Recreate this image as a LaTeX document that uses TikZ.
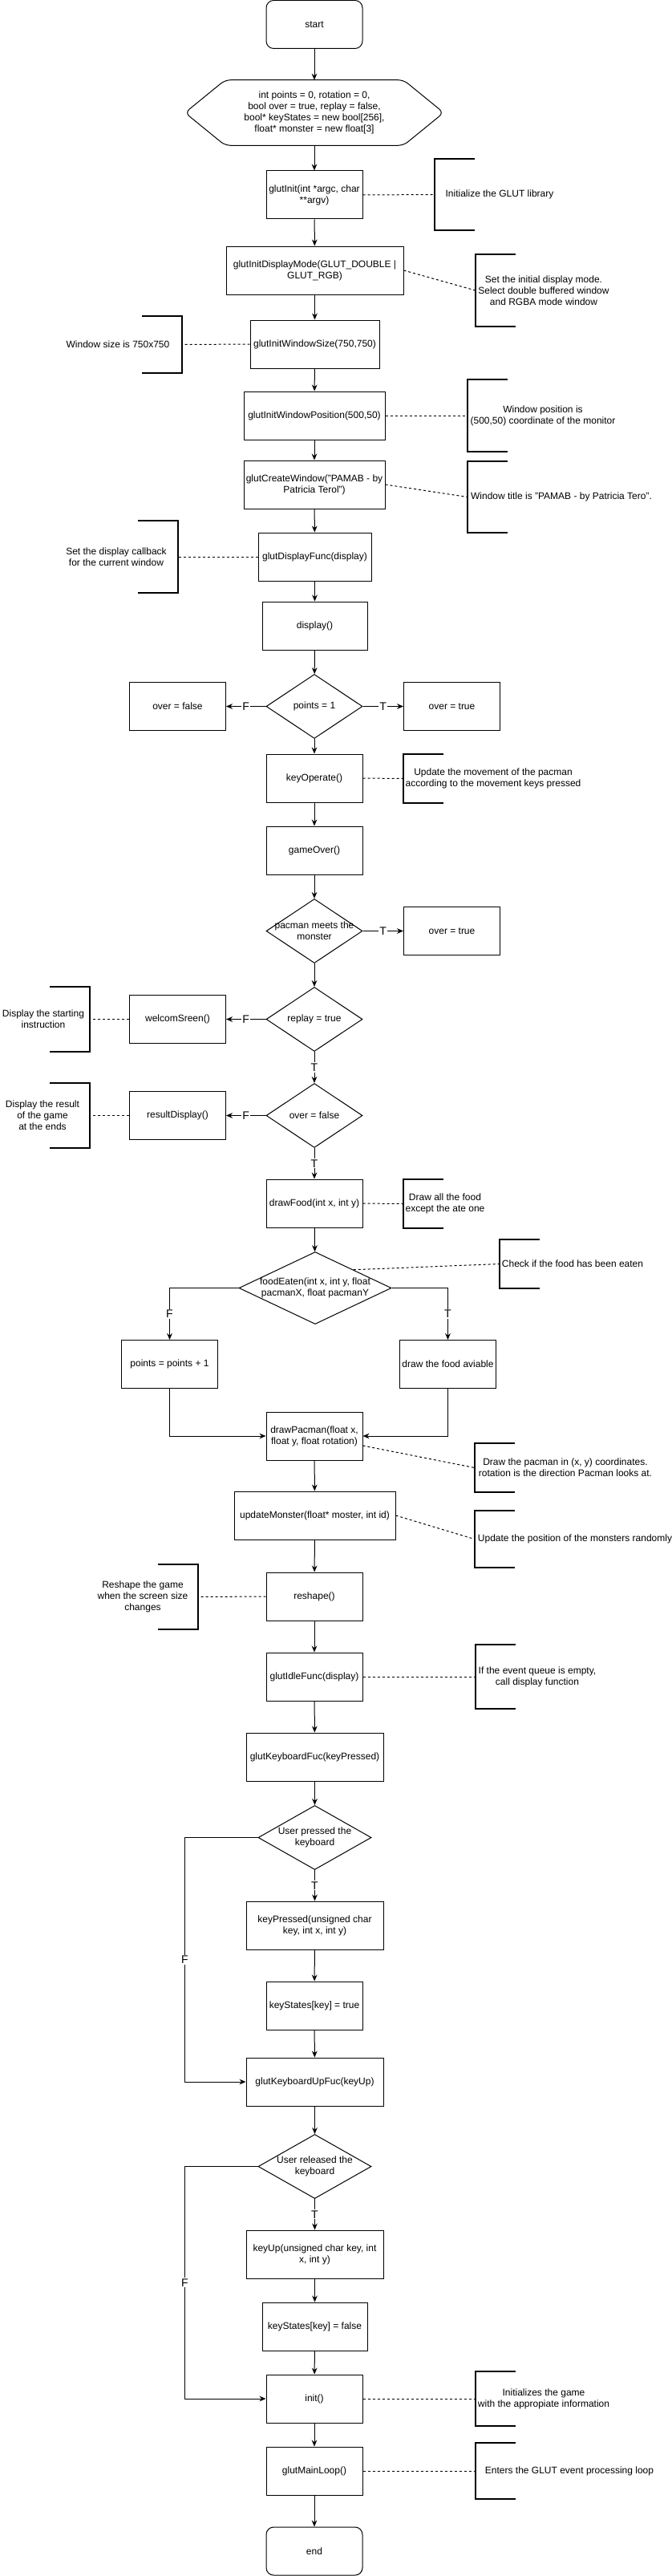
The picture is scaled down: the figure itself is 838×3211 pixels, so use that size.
\documentclass[tikz,border=0pt]{standalone}
\usepackage{fontspec}
\setmainfont{Liberation Sans}
\usetikzlibrary{shapes.geometric,arrows.meta,calc}

\tikzset{
  box/.style={draw, line width=0.75pt, minimum width=90pt, minimum height=45pt, align=center, inner sep=1pt},
  term/.style={box, rounded corners=7pt},
  decision/.style={draw, diamond, line width=0.75pt, inner sep=0pt, minimum width=90pt, minimum height=60pt},
  dlab/.style={align=center},
  annot/.style={align=center, inner sep=0pt},
  annotbar/.style={line width=1.5pt},
  flow/.style={line width=0.75pt, -{Stealth[length=6pt,width=5pt]}},
  dotline/.style={line width=0.75pt, dash pattern=on 2.25pt off 2.25pt},
  lbl/.style={fill=white, inner sep=1pt, font=\fontsize{10.5}{12}\selectfont},
}

\begin{document}
\begin{tikzpicture}[x=0.75pt, y=-0.75pt, font=\fontsize{9}{10.5}\selectfont]

        % Pagina
        \path[use as bounding box, fill=white] (0,0) rectangle (838,3211);

        % Inizializzazione
        \node[term] (start) at (392,30.5) {start};
        \node[align=center, minimum width=241.5pt, minimum height=60.75pt] (vars) at (392,140.5)
          {int points = 0, rotation = 0,\\bool over = true, replay = false,\\bool* keyStates = new bool[256],\\float* monster = new float[3]};
        \draw[line width=0.75pt, rounded corners=5pt] (vars.west) -- ($(vars.north west)+(50,0)$) -- ($(vars.north east)+(-50,0)$)
          -- (vars.east) -- ($(vars.south east)+(-50,0)$) -- ($(vars.south west)+(50,0)$) -- cycle;
        \node[box] (glutinit) at (392,243) {glutInit(int *argc, char\\{}**argv)};
        \node[box, minimum width=165.75pt] (dispmode) at (392.5,337) {glutInitDisplayMode(GLUT\_DOUBLE |\\GLUT\_RGB)};
        \node[box, minimum width=120.75pt] (winsize) at (392.5,429) {glutInitWindowSize(750,750)};
        \node[box, minimum width=132pt] (winpos) at (392,518) {glutInitWindowPosition(500,50)};
        \node[box, minimum width=132pt] (createwin) at (392,604) {glutCreateWindow("PAMAB - by\\Patricia Terol")};
        \node[box, minimum width=105.75pt] (dispfunc) at (392.5,694) {glutDisplayFunc(display)};
        \node[box, minimum width=98.25pt] (display) at (392.5,780) {display()};

        % Gioco
        \node[decision, label={[dlab]center:{points = 1}}] (d1) at (392,880.5) {};
        \node[box] (overf) at (221.5,880.5) {over = false};
        \node[box] (overt1) at (563.5,880.5) {over = true};
        \node[box] (keyop) at (392,970) {keyOperate()};
        \node[box] (gameover) at (392,1060) {gameOver()};
        \node[decision, label={[dlab]center:{pacman meets the\\monster}}] (d2) at (392,1160.5) {};
        \node[box] (overt2) at (563.5,1160.5) {over = true};
        \node[decision, label={[dlab]center:{replay = true}}] (d3) at (392,1270.5) {};
        \node[box] (welcome) at (221.5,1270.5) {welcomSreen()};
        \node[decision, label={[dlab]center:{over = false}}] (d4) at (392,1390.5) {};
        \node[box] (result) at (221.5,1390.5) {resultDisplay()};
        \node[box] (drawfood) at (392,1500) {drawFood(int x, int y)};
        \node[decision, minimum width=142.5pt, minimum height=67.5pt,
          label={[dlab]center:{foodEaten(int x, int y, float\\pacmanX, float pacmanY}}] (d5) at (393,1605.5) {};
        \node[box] (points) at (211.5,1700.5) {points = points + 1};
        \node[box] (avail) at (558.5,1700.5) {draw the food aviable};
        \node[box] (pacman) at (392,1790) {drawPacman(float x,\\float y, float rotation)};
        \node[box, minimum width=150.75pt] (monster) at (392.5,1889) {updateMonster(float* moster, int id)};
        \node[box] (reshape) at (392,1990) {reshape()};
        \node[box] (idle) at (392,2090) {glutIdleFunc(display)};

        % Tastiera
        \node[box, minimum width=128.25pt] (kbfunc) at (392.5,2190) {glutKeyboardFuc(keyPressed)};
        \node[decision, minimum width=105.75pt, label={[dlab]center:{User pressed the\\keyboard}}] (d6) at (392.5,2290.5) {};
        \node[box, minimum width=128.25pt] (keypressed) at (392.5,2400) {keyPressed(unsigned char\\key, int x, int y)};
        \node[box] (kstrue) at (392,2500) {keyStates[key] = true};
        \node[box, minimum width=128.25pt] (upfunc) at (392.5,2595) {glutKeyboardUpFuc(keyUp)};
        \node[decision, minimum width=105.75pt, label={[dlab]center:{User released the\\keyboard}}] (d7) at (392.5,2700.5) {};
        \node[box, minimum width=128.25pt] (keyup) at (392.5,2810) {keyUp(unsigned char key, int\\x, int y)};
        \node[box, minimum width=98.25pt] (ksfalse) at (392.5,2900) {keyStates[key] = false};
        \node[box] (initg) at (392,2990) {init()};
        \node[box] (mainloop) at (392,3080) {glutMainLoop()};
        \node[term] (end) at (392,3180) {end};

        % Frecce
        \foreach \a/\b in {start/vars, vars/glutinit, glutinit/dispmode, dispmode/winsize, winsize/winpos,
            winpos/createwin, createwin/dispfunc, dispfunc/display, display/d1, d1/keyop, keyop/gameover,
            gameover/d2, d2/d3, drawfood/d5, pacman/monster, monster/reshape, reshape/idle, idle/kbfunc,
            kbfunc/d6, keypressed/kstrue, kstrue/upfunc, upfunc/d7, keyup/ksfalse, ksfalse/initg,
            initg/mainloop, mainloop/end}
          \draw[flow] (\a) -- (\b);
        \draw[flow] (d1.west) -- node[lbl]{F} (overf.east);
        \draw[flow] (d1.east) -- node[lbl]{T} (overt1.west);
        \draw[flow] (d2.east) -- node[lbl]{T} (overt2.west);
        \draw[flow] (d3.west) -- node[lbl]{F} (welcome.east);
        \draw[flow] (d3.south) -- node[lbl]{T} (d4.north);
        \draw[flow] (d4.west) -- node[lbl]{F} (result.east);
        \draw[flow] (d4.south) -- node[lbl]{T} (drawfood.north);
        \draw[flow] (d5.west) -| node[lbl, pos=0.75]{F} (points.north);
        \draw[flow] (d5.east) -| node[lbl, pos=0.75]{T} (avail.north);
        \draw[flow] (points.south) |- (pacman.west);
        \draw[flow] (avail.south) |- (pacman.east);
        \draw[flow] (d6.south) -- node[lbl]{T} (keypressed.north);
        \draw[flow] (d6.west) -- ++(-91,0) |- node[lbl, pos=0.25]{F} (upfunc.west);
        \draw[flow] (d7.south) -- node[lbl]{T} (keyup.north);
        \draw[flow] (d7.west) -- ++(-91,0) |- node[lbl, pos=0.25]{F} (initg.west);

        % Annotazioni a destra
        \node[annot, minimum width=121.5pt, minimum height=66.75pt] (nInit) at (623,242.5) {Initialize the GLUT library};
        \node[annot, minimum width=127.5pt, minimum height=67.5pt] (nMode) at (678,362) {Set the initial display mode.\\Select double buffered window\\and RGBA mode window};
        \node[annot, minimum width=141pt, minimum height=67.5pt] (nPos) at (677,518) {Window position is\\(500,50) coordinate of the monitor};
        \node[annot, minimum width=175.5pt, minimum height=66.75pt] (nTitle) at (700,619.5) {Window title is "PAMAB - by Patricia Tero".};
        \node[annot, minimum width=168pt, minimum height=45.75pt] (nKey) at (615,970.5) {Update the movement of the pacman\\according to the movement keys pressed};
        \node[annot, minimum width=78pt, minimum height=45.75pt] (nFood) at (555,1500.5) {Draw all the food\\except the ate one};
        \node[annot, minimum width=136.5pt, minimum height=45.75pt] (nEaten) at (714,1575.5) {Check if the food has been eaten};
        \node[annot, minimum width=169.5pt, minimum height=45.75pt] (nPacman) at (705,1829.5) {Draw the pacman in (x, y) coordinates.\\rotation is the direction Pacman looks at.};
        \node[annot, minimum width=187.5pt, minimum height=53.25pt] (nMonster) at (717,1918.5) {Update the position of the monsters randomly};
        \node[annot, minimum width=115.5pt, minimum height=60pt] (nIdle) at (670,2090) {If the event queue is empty,\\call display function};
        \node[annot, minimum width=127.5pt, minimum height=51pt] (nInitGame) at (678,2990) {Initializes the game\\with the appropiate information};
        \node[annot, minimum width=175.5pt, minimum height=52.5pt] (nLoop) at (710,3080) {Enters the GLUT event processing loop};

        % Annotazioni a sinistra
        \node[annot, minimum width=120pt, minimum height=53.25pt] (nSize) at (147,429.5) {Window size is 750x750};
        \node[annot, minimum width=115.5pt, minimum height=67.5pt] (nDisp) at (145,694) {Set the display callback\\for the current window};
        \node[annot, minimum width=87pt, minimum height=60.75pt] (nWelcome) at (54,1270.5) {Display the starting\\instruction};
        \node[annot, minimum width=88.5pt, minimum height=60.75pt] (nResult) at (53,1390.5) {Display the result\\of the game\\at the ends};
        \node[annot, minimum width=103.5pt, minimum height=60.75pt] (nReshape) at (178,1990.5) {Reshape the game\\when the screen size\\changes};

        % Parentesi
        \foreach \n in {nInit, nMode, nPos, nTitle, nKey, nFood, nEaten, nPacman, nMonster, nIdle, nInitGame, nLoop}
          \draw[annotbar] ($(\n.north west)+(50,0)$) -- (\n.north west) -- (\n.south west) -- ++(50,0);
        \foreach \n in {nSize, nDisp, nWelcome, nResult, nReshape}
          \draw[annotbar] ($(\n.north east)+(-50,0)$) -- (\n.north east) -- (\n.south east) -- ++(-50,0);

        % Linee tratteggiate
        \foreach \a/\b in {glutinit/nInit, dispmode/nMode, winpos/nPos, createwin/nTitle, keyop/nKey,
            drawfood/nFood, monster/nMonster, idle/nIdle, initg/nInitGame, mainloop/nLoop}
          \draw[dotline] (\a.east) -- (\b.west);
        \foreach \a/\b in {winsize/nSize, dispfunc/nDisp, welcome/nWelcome, result/nResult, reshape/nReshape}
          \draw[dotline] (\a.west) -- (\b.east);
        \draw[dotline] (d5.north east) -- (nEaten.west);
        \draw[dotline] ([yshift=-9pt]pacman.east) -- (nPacman.west);

\end{tikzpicture}
\end{document}
